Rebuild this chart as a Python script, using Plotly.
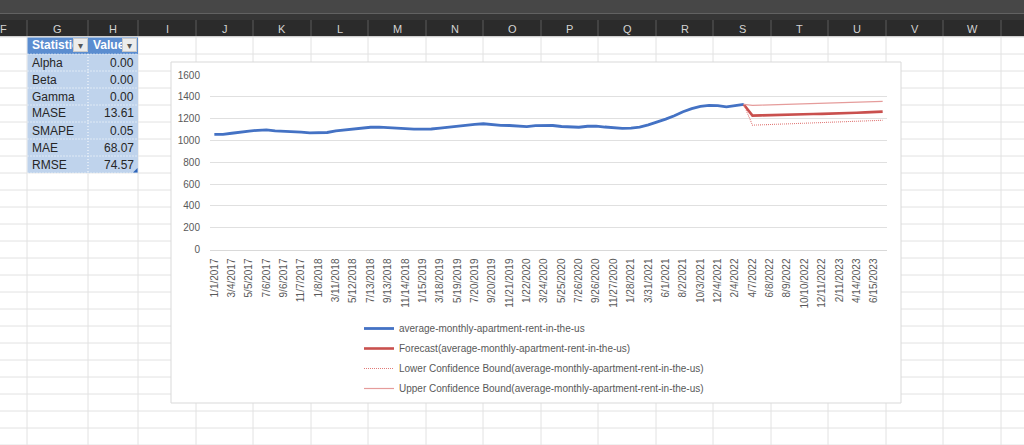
import plotly.graph_objects as go
from datetime import date, timedelta

W, H = 1024, 445

# ---------------- data ----------------
start = date(2017, 1, 1)
dates = [start + timedelta(days=31 * k) for k in range(78)]
categories = [f"{d.month}/{d.day}/{d.year}" for d in dates]
tick_labels = categories[::2]

actual = [1055, 1055, 1066, 1078, 1086, 1093, 1097, 1088, 1086, 1085,
          1077, 1070, 1069, 1073, 1088, 1097, 1106, 1113, 1121, 1122,
          1116, 1113, 1105, 1104, 1104, 1105, 1113, 1122, 1132, 1143,
          1147, 1153, 1145, 1138, 1137, 1131, 1127, 1136, 1138, 1137,
          1128, 1122, 1121, 1130, 1131, 1123, 1115, 1111, 1113, 1122,
          1143, 1168, 1196, 1227, 1263, 1291, 1312, 1322, 1319, 1308,
          1316, 1330]
forecast = [1330, 1228, 1230, 1231, 1233, 1236, 1237, 1240, 1242, 1244,
            1245, 1248, 1251, 1254, 1257, 1260, 1264]
lower = [1330, 1140, 1143, 1146, 1149, 1152, 1154, 1157, 1160, 1162,
         1164, 1167, 1170, 1173, 1176, 1180, 1185]
upper = [1330, 1322, 1324, 1326, 1328, 1331, 1333, 1335, 1337, 1339,
         1341, 1344, 1347, 1350, 1352, 1355, 1359]

stat_names = ["Alpha", "Beta", "Gamma", "MASE", "SMAPE", "MAE", "RMSE"]
stat_values = ["0.00", "0.00", "0.00", "13.61", "0.05", "68.07", "74.57"]
col_letters = ["F", "G", "H", "I", "J", "K", "L", "M", "N", "O", "P", "Q",
               "R", "S", "T", "U", "V", "W"]

series_name = "average-monthly-apartment-rent-in-the-us"

# ---------------- spreadsheet geometry ----------------
col_sep = [27, 88, 138, 196, 253, 311, 368, 426, 483, 541, 598, 656, 713,
           771, 828, 886, 943, 1001]
col_centers = [3] + [(col_sep[i] + col_sep[i + 1]) / 2 for i in range(len(col_sep) - 1)]
row_top = 37
row_h = 17

def fx(x):
    return x / W

def fy(y):
    return 1 - y / H

shapes = []

def rect(x0, y0, x1, y1, fill, line=None, lw=0, layer="below", dash=None):
    ln = dict(color=line if line else fill, width=lw)
    if dash:
        ln["dash"] = dash
    shapes.append(dict(type="rect", xref="paper", yref="paper",
                       x0=fx(x0), x1=fx(x1), y0=fy(y1), y1=fy(y0),
                       fillcolor=fill, line=ln, layer=layer))

def seg(x0, y0, x1, y1, color, lw=1, layer="below", dash=None):
    ln = dict(color=color, width=lw)
    if dash:
        ln["dash"] = dash
    shapes.append(dict(type="line", xref="paper", yref="paper",
                       x0=fx(x0), x1=fx(x1), y0=fy(y0), y1=fy(y1),
                       line=ln, layer=layer))

# top chrome
rect(0, 0, W, 13, "#474747")
seg(0, 13.5, W, 13.5, "#626262", 1)
rect(0, 14, W, 20, "#363636")
rect(0, 20, W, 36.5, "#2b2b2b")
for x in col_sep:
    seg(x, 20, x, 36.5, "#5c5c5c", 1)
seg(0, 36.5, W, 36.5, "#bdbdbd", 1)

# cell grid
for x in col_sep:
    seg(x, 37, x, H, "#e2e2e2", 1)
y = row_top
while y <= H + 1:
    seg(0, y, W, y, "#e2e2e2", 1)
    y += row_h

# table
rect(27.5, 37.5, 88, 54, "#5b8dd0")
rect(88, 37.5, 138, 54, "#5b8dd0")
for i in range(len(stat_names)):
    y0 = 54 + i * row_h
    rect(27.5, y0, 88, y0 + row_h, "#bfd3ec")
    rect(88, y0, 138, y0 + row_h, "#bfd3ec")
for i in range(len(stat_names) + 1):
    y0 = 54 + i * row_h
    seg(27.5, y0, 138, y0, "#ffffff", 1, dash="1px,2px")
seg(88, 54, 88, 173, "#ffffff", 1, dash="1px,2px")
# resize handle
shapes.append(dict(type="path", xref="paper", yref="paper",
                   path=f"M {fx(137.5)},{fy(168)} L {fx(137.5)},{fy(172.5)} L {fx(133)},{fy(172.5)} Z",
                   fillcolor="#2e64b8", line=dict(width=0), layer="below"))

# chart area
rect(171, 62, 901, 403, "#ffffff", "#d9d9d9", 1)

annotations = []
for L, cx in zip(col_letters, col_centers):
    annotations.append(dict(xref="paper", yref="paper", x=fx(cx), y=fy(28.5),
                            text=L, showarrow=False, xanchor="center", yanchor="middle",
                            font=dict(family="Liberation Sans", size=11, color="#d4d4d4")))

annotations.append(dict(xref="paper", yref="paper", x=fx(30), y=fy(45.5),
                        text="<b>Statistic</b>", showarrow=False, xanchor="left", yanchor="middle",
                        font=dict(family="Liberation Sans", size=12, color="#ffffff")))
annotations.append(dict(xref="paper", yref="paper", x=fx(90.5), y=fy(45.5),
                        text="<b>Value</b>", showarrow=False, xanchor="left", yanchor="middle",
                        font=dict(family="Liberation Sans", size=12, color="#ffffff")))
for bx in (73, 122):
    annotations.append(dict(xref="paper", yref="paper", x=fx(bx), y=fy(38.5),
                            text="▾", showarrow=False, xanchor="left", yanchor="top",
                            width=13, height=12, bgcolor="#ececec", bordercolor="#c9c9c9",
                            borderwidth=1, borderpad=0,
                            font=dict(family="DejaVu Sans", size=10, color="#555555")))
for i, (n, v) in enumerate(zip(stat_names, stat_values)):
    yc = 54 + i * row_h + row_h / 2
    annotations.append(dict(xref="paper", yref="paper", x=fx(30), y=fy(yc),
                            text=n, showarrow=False, xanchor="left", yanchor="middle",
                            font=dict(family="Liberation Sans", size=12, color="#262626")))
    annotations.append(dict(xref="paper", yref="paper", x=fx(136), y=fy(yc),
                            text=v, showarrow=False, xanchor="right", yanchor="middle",
                            font=dict(family="Liberation Sans", size=12, color="#262626")))

# ---------------- traces ----------------
fig = go.Figure()
fig.add_trace(go.Scatter(x=categories[:len(actual)], y=actual, mode="lines",
                         name=series_name, legendgroup="a",
                         line=dict(color="#4472C4", width=2.8)))
fig.add_trace(go.Scatter(x=categories[61:61 + len(forecast)], y=forecast, mode="lines",
                         name=f"Forecast({series_name})", legendgroup="b",
                         line=dict(color="#C9504E", width=2.6)))
fig.add_trace(go.Scatter(x=categories[61:61 + len(lower)], y=lower, mode="lines",
                         name=f"Lower Confidence Bound({series_name})", legendgroup="c",
                         line=dict(color="#E07A78", width=1.1, dash="1px,1px")))
fig.add_trace(go.Scatter(x=categories[61:61 + len(upper)], y=upper, mode="lines",
                         name=f"Upper Confidence Bound({series_name})", legendgroup="d",
                         line=dict(color="#E59C9B", width=1.2)))

fig.update_layout(
    width=W, height=H, autosize=False,
    margin=dict(l=0, r=0, t=0, b=0, pad=0),
    paper_bgcolor="#ffffff",
    plot_bgcolor="rgba(0,0,0,0)",
    shapes=shapes,
    annotations=annotations,
    showlegend=True,
    legend=dict(x=fx(359), y=fy(314), xanchor="left", yanchor="top",
                bgcolor="rgba(0,0,0,0)", traceorder="grouped", tracegroupgap=1,
                font=dict(family="Liberation Sans", size=10, color="#595959")),
    font=dict(family="Liberation Sans", size=10, color="#595959"),
)
fig.update_xaxes(
    domain=[fx(210), fx(887)], type="category",
    categoryorder="array", categoryarray=categories,
    range=[-0.5, len(categories) - 0.5],
    tickmode="array", tickvals=tick_labels, ticktext=tick_labels,
    tickangle=-90, tickfont=dict(size=10, color="#595959"),
    showgrid=False, showline=True, linecolor="#d9d9d9", linewidth=1,
    ticks="", ticklabelstandoff=4, zeroline=False, automargin=False,
)
fig.update_yaxes(
    domain=[fy(249.5), fy(75)], range=[0, 1600],
    tickmode="array", tickvals=list(range(0, 1601, 200)),
    tickfont=dict(size=10, color="#595959"),
    showgrid=True, gridcolor="#e0e0e0", gridwidth=1,
    showline=False, zeroline=False, ticks="", ticklabelstandoff=9, automargin=False,
)

post = ("document.documentElement.style.margin='0';"
        "document.documentElement.style.overflow='hidden';"
        "document.body.style.margin='0';document.body.style.padding='0';"
        "document.body.style.overflow='hidden';"
        "var gd=document.getElementById('{plot_id}');"
        "gd.style.position='fixed';gd.style.left='0px';gd.style.top='0px';")

fig.write_html("out.html", config={"displayModeBar": False, "responsive": False},
               post_script=post)
